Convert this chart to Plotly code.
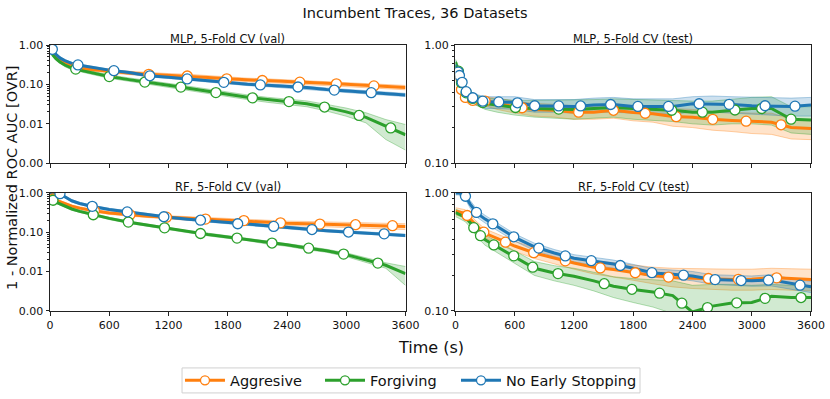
import numpy as np
import plotly.graph_objects as go
from plotly.subplots import make_subplots

# time grid (s) shared by all traces
TIME = [0, 30, 60, 100, 150, 220, 300, 420, 600, 800, 1000, 1200, 1400, 1600,
        1800, 2000, 2200, 2400, 2600, 2800, 3000, 3200, 3400, 3600]

STRATEGIES = ["Aggresive", "Forgiving", "No Early Stopping"]
COLORS = {"Aggresive": "#ff7f0e", "Forgiving": "#2ca02c", "No Early Stopping": "#1f77b4"}
FILLS = {"Aggresive": "rgba(255,127,14,0.22)", "Forgiving": "rgba(44,160,44,0.22)",
         "No Early Stopping": "rgba(31,119,180,0.22)"}
EDGES = {"Aggresive": "rgba(255,127,14,0.35)", "Forgiving": "rgba(44,160,44,0.35)",
         "No Early Stopping": "rgba(31,119,180,0.35)"}
LEGEND_IDS = {"Aggresive": "legend", "Forgiving": "legend2", "No Early Stopping": "legend3"}

PANEL_TITLES = ["MLP, 5-Fold CV (val)", "MLP, 5-Fold CV (test)",
                "RF, 5-Fold CV (val)", "RF, 5-Fold CV (test)"]

# ---- MLP val ----
MLP_VAL_AGG = [0.85, 0.62, 0.50, 0.41, 0.35, 0.30, 0.26, 0.24, 0.215, 0.195, 0.18, 0.17, 0.163, 0.15, 0.138, 0.13, 0.124, 0.117, 0.112, 0.106, 0.101, 0.094, 0.088, 0.083]
MLP_VAL_AGG_LO = [0.80, 0.57, 0.46, 0.37, 0.32, 0.27, 0.235, 0.215, 0.195, 0.177, 0.163, 0.153, 0.147, 0.135, 0.124, 0.117, 0.111, 0.105, 0.1, 0.095, 0.09, 0.084, 0.078, 0.073]
MLP_VAL_AGG_HI = [0.90, 0.67, 0.55, 0.45, 0.39, 0.33, 0.29, 0.265, 0.238, 0.215, 0.198, 0.188, 0.18, 0.166, 0.153, 0.144, 0.138, 0.13, 0.125, 0.118, 0.113, 0.105, 0.099, 0.094]
MLP_VAL_FOR = [0.80, 0.55, 0.45, 0.37, 0.31, 0.26, 0.23, 0.20, 0.158, 0.132, 0.11, 0.095, 0.08, 0.066, 0.056, 0.047, 0.041, 0.037, 0.032, 0.026, 0.020, 0.0145, 0.0095, 0.0072]
MLP_VAL_FOR_LO = [0.75, 0.50, 0.41, 0.34, 0.28, 0.235, 0.208, 0.18, 0.143, 0.119, 0.099, 0.085, 0.071, 0.058, 0.049, 0.041, 0.035, 0.031, 0.027, 0.021, 0.0155, 0.0105, 0.006, 0.0033]
MLP_VAL_FOR_HI = [0.85, 0.60, 0.49, 0.40, 0.34, 0.285, 0.252, 0.22, 0.174, 0.146, 0.122, 0.106, 0.09, 0.075, 0.064, 0.054, 0.047, 0.043, 0.038, 0.031, 0.025, 0.019, 0.0128, 0.0098]
MLP_VAL_NES = [0.90, 0.75, 0.58, 0.47, 0.40, 0.34, 0.305, 0.27, 0.23, 0.20, 0.166, 0.152, 0.137, 0.123, 0.11, 0.101, 0.095, 0.089, 0.083, 0.074, 0.068, 0.063, 0.058, 0.054]
MLP_VAL_NES_LO = [0.86, 0.70, 0.54, 0.44, 0.375, 0.318, 0.285, 0.252, 0.215, 0.186, 0.155, 0.141, 0.127, 0.114, 0.102, 0.093, 0.087, 0.081, 0.076, 0.068, 0.062, 0.057, 0.052, 0.049]
MLP_VAL_NES_HI = [0.94, 0.80, 0.62, 0.50, 0.425, 0.362, 0.325, 0.288, 0.245, 0.214, 0.178, 0.163, 0.147, 0.132, 0.118, 0.109, 0.103, 0.097, 0.09, 0.081, 0.074, 0.069, 0.064, 0.059]

# ---- MLP test ----
MLP_TEST_AGG = [0.55, 0.47, 0.42, 0.36, 0.34, 0.34, 0.335, 0.32, 0.30, 0.285, 0.28, 0.27, 0.27, 0.28, 0.268, 0.262, 0.248, 0.245, 0.235, 0.23, 0.225, 0.222, 0.20, 0.196]
MLP_TEST_AGG_LO = [0.50, 0.43, 0.38, 0.33, 0.31, 0.31, 0.305, 0.285, 0.265, 0.25, 0.245, 0.235, 0.235, 0.24, 0.228, 0.222, 0.205, 0.20, 0.19, 0.185, 0.178, 0.175, 0.16, 0.158]
MLP_TEST_AGG_HI = [0.60, 0.51, 0.46, 0.39, 0.37, 0.37, 0.365, 0.355, 0.335, 0.32, 0.315, 0.305, 0.305, 0.315, 0.305, 0.30, 0.29, 0.285, 0.275, 0.27, 0.265, 0.265, 0.235, 0.23]
MLP_TEST_FOR = [0.72, 0.60, 0.48, 0.40, 0.36, 0.34, 0.32, 0.31, 0.296, 0.29, 0.287, 0.285, 0.29, 0.295, 0.29, 0.285, 0.28, 0.27, 0.27, 0.28, 0.29, 0.29, 0.235, 0.232]
MLP_TEST_FOR_LO = [0.66, 0.55, 0.44, 0.36, 0.325, 0.305, 0.285, 0.27, 0.255, 0.245, 0.24, 0.235, 0.24, 0.245, 0.235, 0.23, 0.225, 0.215, 0.21, 0.215, 0.215, 0.21, 0.18, 0.175]
MLP_TEST_FOR_HI = [0.76, 0.66, 0.53, 0.44, 0.395, 0.375, 0.355, 0.35, 0.34, 0.34, 0.34, 0.34, 0.345, 0.35, 0.345, 0.34, 0.34, 0.335, 0.335, 0.345, 0.36, 0.365, 0.30, 0.30]
MLP_TEST_NES = [0.68, 0.58, 0.50, 0.41, 0.365, 0.345, 0.33, 0.33, 0.327, 0.306, 0.306, 0.302, 0.31, 0.314, 0.302, 0.302, 0.302, 0.318, 0.318, 0.314, 0.306, 0.306, 0.302, 0.31]
MLP_TEST_NES_LO = [0.62, 0.52, 0.45, 0.37, 0.33, 0.31, 0.29, 0.29, 0.285, 0.27, 0.27, 0.265, 0.27, 0.27, 0.265, 0.26, 0.26, 0.27, 0.27, 0.265, 0.26, 0.255, 0.25, 0.25]
MLP_TEST_NES_HI = [0.74, 0.64, 0.55, 0.45, 0.40, 0.38, 0.365, 0.365, 0.365, 0.345, 0.345, 0.345, 0.355, 0.36, 0.35, 0.35, 0.35, 0.365, 0.37, 0.365, 0.36, 0.36, 0.355, 0.36]

# ---- RF val ----
RF_VAL_AGG = [0.75, 0.70, 0.64, 0.58, 0.52, 0.46, 0.41, 0.36, 0.31, 0.28, 0.255, 0.24, 0.226, 0.215, 0.205, 0.196, 0.18, 0.17, 0.165, 0.16, 0.157, 0.154, 0.15, 0.141]
RF_VAL_AGG_LO = [0.70, 0.65, 0.59, 0.535, 0.48, 0.425, 0.378, 0.332, 0.285, 0.256, 0.232, 0.217, 0.203, 0.192, 0.182, 0.173, 0.158, 0.148, 0.142, 0.137, 0.133, 0.129, 0.125, 0.117]
RF_VAL_AGG_HI = [0.80, 0.75, 0.69, 0.625, 0.56, 0.495, 0.442, 0.388, 0.335, 0.304, 0.278, 0.263, 0.249, 0.238, 0.228, 0.219, 0.202, 0.192, 0.188, 0.183, 0.181, 0.179, 0.175, 0.165]
RF_VAL_FOR = [0.68, 0.65, 0.58, 0.52, 0.46, 0.39, 0.34, 0.285, 0.225, 0.18, 0.15, 0.125, 0.102, 0.088, 0.076, 0.066, 0.055, 0.048, 0.04, 0.034, 0.027, 0.02, 0.0145, 0.0095]
RF_VAL_FOR_LO = [0.64, 0.61, 0.545, 0.488, 0.432, 0.366, 0.319, 0.267, 0.21, 0.168, 0.14, 0.116, 0.095, 0.081, 0.07, 0.061, 0.05, 0.044, 0.036, 0.031, 0.024, 0.0175, 0.0122, 0.0065]
RF_VAL_FOR_HI = [0.72, 0.69, 0.615, 0.552, 0.488, 0.414, 0.361, 0.303, 0.24, 0.192, 0.16, 0.134, 0.109, 0.095, 0.082, 0.071, 0.06, 0.052, 0.044, 0.037, 0.03, 0.0225, 0.0168, 0.0135]
RF_VAL_NES = [1.0, 1.0, 0.99, 0.96, 0.80, 0.63, 0.54, 0.46, 0.38, 0.325, 0.275, 0.24, 0.215, 0.195, 0.172, 0.158, 0.145, 0.132, 0.12, 0.11, 0.102, 0.096, 0.091, 0.083]
RF_VAL_NES_LO = [0.97, 0.97, 0.95, 0.91, 0.75, 0.59, 0.505, 0.43, 0.355, 0.303, 0.256, 0.223, 0.20, 0.181, 0.16, 0.147, 0.135, 0.122, 0.111, 0.102, 0.094, 0.089, 0.084, 0.077]
RF_VAL_NES_HI = [1.0, 1.0, 1.0, 1.0, 0.85, 0.67, 0.575, 0.49, 0.405, 0.347, 0.294, 0.257, 0.23, 0.209, 0.184, 0.169, 0.155, 0.142, 0.129, 0.118, 0.11, 0.103, 0.098, 0.089]

# ---- RF test ----
RF_TEST_AGG = [0.70, 0.69, 0.68, 0.67, 0.60, 0.52, 0.455, 0.41, 0.355, 0.31, 0.28, 0.255, 0.235, 0.225, 0.212, 0.20, 0.192, 0.19, 0.188, 0.185, 0.186, 0.192, 0.188, 0.185]
RF_TEST_AGG_LO = [0.65, 0.64, 0.63, 0.62, 0.55, 0.475, 0.415, 0.372, 0.32, 0.278, 0.25, 0.226, 0.206, 0.195, 0.182, 0.17, 0.16, 0.155, 0.152, 0.15, 0.15, 0.152, 0.15, 0.148]
RF_TEST_AGG_HI = [0.75, 0.74, 0.73, 0.72, 0.65, 0.565, 0.495, 0.448, 0.39, 0.342, 0.31, 0.285, 0.265, 0.257, 0.245, 0.235, 0.23, 0.228, 0.228, 0.226, 0.226, 0.23, 0.228, 0.226]
RF_TEST_FOR = [0.68, 0.66, 0.64, 0.62, 0.56, 0.46, 0.40, 0.35, 0.29, 0.23, 0.21, 0.197, 0.18, 0.162, 0.152, 0.145, 0.135, 0.098, 0.11, 0.117, 0.118, 0.133, 0.13, 0.13]
RF_TEST_FOR_LO = [0.63, 0.61, 0.59, 0.57, 0.51, 0.42, 0.36, 0.312, 0.255, 0.20, 0.18, 0.165, 0.148, 0.13, 0.118, 0.108, 0.095, 0.07, 0.08, 0.085, 0.085, 0.095, 0.092, 0.092]
RF_TEST_FOR_HI = [0.73, 0.71, 0.69, 0.67, 0.61, 0.50, 0.44, 0.39, 0.325, 0.262, 0.242, 0.23, 0.213, 0.195, 0.188, 0.185, 0.18, 0.165, 0.168, 0.168, 0.165, 0.168, 0.165, 0.165]
RF_TEST_NES = [1.0, 1.0, 0.98, 0.94, 0.80, 0.67, 0.60, 0.52, 0.42, 0.35, 0.31, 0.28, 0.265, 0.25, 0.23, 0.21, 0.205, 0.198, 0.185, 0.182, 0.18, 0.183, 0.17, 0.16]
RF_TEST_NES_LO = [0.96, 0.96, 0.93, 0.88, 0.74, 0.62, 0.555, 0.48, 0.39, 0.325, 0.288, 0.26, 0.245, 0.23, 0.212, 0.193, 0.188, 0.18, 0.168, 0.165, 0.162, 0.163, 0.152, 0.143]
RF_TEST_NES_HI = [1.0, 1.0, 1.0, 1.0, 0.86, 0.72, 0.645, 0.56, 0.45, 0.375, 0.332, 0.30, 0.285, 0.27, 0.248, 0.228, 0.222, 0.216, 0.203, 0.20, 0.198, 0.203, 0.188, 0.178]

# marker times (s) per panel / strategy
MLP_VAL_MARKS = {"Aggresive": [270, 640, 1000, 1390, 1790, 2150, 2530, 2900, 3280],
                 "Forgiving": [260, 600, 960, 1325, 1680, 2050, 2420, 2780, 3130, 3450],
                 "No Early Stopping": [24, 283, 647, 1011, 1389, 1760, 2130, 2511, 2879, 3253]}
MLP_TEST_MARKS = {"Aggresive": [60, 100, 175, 300, 674, 1247, 1600, 1921, 2235, 2605, 2943, 3297],
                  "Forgiving": [30, 60, 108, 175, 276, 607, 1045, 2190, 2500, 2830, 3100, 3398],
                  "No Early Stopping": [27, 40, 67, 108, 175, 276, 438, 627, 802, 1045, 1267, 1571, 1847, 2157, 2467, 2771, 3135, 3438]}
RF_VAL_MARKS = {"Aggresive": [30, 450, 810, 1180, 1575, 1963, 2334, 2733, 3094, 3468],
                "Forgiving": [30, 438, 793, 1160, 1524, 1894, 2248, 2619, 2973, 3320],
                "No Early Stopping": [101, 428, 782, 1153, 1524, 1901, 2265, 2653, 3023, 3384]}
RF_TEST_MARKS = {"Aggresive": [118, 287, 506, 792, 1112, 1466, 1820, 2157, 2561, 2865, 3252],
                 "Forgiving": [185, 253, 388, 590, 782, 1038, 1506, 1786, 2066, 2292, 2552, 2848, 3135, 3499],
                 "No Early Stopping": [101, 212, 378, 590, 843, 1112, 1375, 1669, 1989, 2309, 2629, 2892, 3169, 3489]}

PANELS = [
    # (row, col, symlog?, {strategy: (mean, lo, hi)}, marks)
    (1, 1, True, {"Aggresive": (MLP_VAL_AGG, MLP_VAL_AGG_LO, MLP_VAL_AGG_HI),
                  "Forgiving": (MLP_VAL_FOR, MLP_VAL_FOR_LO, MLP_VAL_FOR_HI),
                  "No Early Stopping": (MLP_VAL_NES, MLP_VAL_NES_LO, MLP_VAL_NES_HI)}, MLP_VAL_MARKS),
    (1, 2, False, {"Aggresive": (MLP_TEST_AGG, MLP_TEST_AGG_LO, MLP_TEST_AGG_HI),
                   "Forgiving": (MLP_TEST_FOR, MLP_TEST_FOR_LO, MLP_TEST_FOR_HI),
                   "No Early Stopping": (MLP_TEST_NES, MLP_TEST_NES_LO, MLP_TEST_NES_HI)}, MLP_TEST_MARKS),
    (2, 1, True, {"Aggresive": (RF_VAL_AGG, RF_VAL_AGG_LO, RF_VAL_AGG_HI),
                  "Forgiving": (RF_VAL_FOR, RF_VAL_FOR_LO, RF_VAL_FOR_HI),
                  "No Early Stopping": (RF_VAL_NES, RF_VAL_NES_LO, RF_VAL_NES_HI)}, RF_VAL_MARKS),
    (2, 2, False, {"Aggresive": (RF_TEST_AGG, RF_TEST_AGG_LO, RF_TEST_AGG_HI),
                   "Forgiving": (RF_TEST_FOR, RF_TEST_FOR_LO, RF_TEST_FOR_HI),
                   "No Early Stopping": (RF_TEST_NES, RF_TEST_NES_LO, RF_TEST_NES_HI)}, RF_TEST_MARKS),
]

LINTHRESH = 0.01


def symlog(v):
    # matplotlib-like symlog (linthresh 0.01) mapped to decade units: 0->0, 0.01->1, 0.1->2, 1->3
    v = np.asarray(v, dtype=float)
    return np.where(v < LINTHRESH, v / LINTHRESH, 1 + np.log10(np.maximum(v, 1e-12) / LINTHRESH))


fig = make_subplots(rows=2, cols=2, horizontal_spacing=0.0657, vertical_spacing=0.112,
                    subplot_titles=PANEL_TITLES)

t = np.array(TIME, dtype=float)
for row, col, is_symlog, series, marks in PANELS:
    def tr(v):
        return symlog(v) if is_symlog else np.asarray(v, dtype=float)

    # confidence bands
    for name in STRATEGIES:
        mean, lo, hi = series[name]
        fig.add_trace(go.Scatter(x=TIME, y=tr(hi), mode="lines", line=dict(color=EDGES[name], width=1),
                                 showlegend=False, hoverinfo="skip"), row=row, col=col)
        fig.add_trace(go.Scatter(x=TIME, y=tr(lo), mode="lines", line=dict(color=EDGES[name], width=1),
                                 fill="tonexty", fillcolor=FILLS[name], showlegend=False, hoverinfo="skip"),
                      row=row, col=col)
    # mean lines
    for name in STRATEGIES:
        mean = series[name][0]
        fig.add_trace(go.Scatter(x=TIME, y=tr(mean), mode="lines", line=dict(color=COLORS[name], width=3),
                                 showlegend=False, name=name), row=row, col=col)
    # markers on the mean lines
    for name in STRATEGIES:
        mean = series[name][0]
        mt = np.array(marks[name], dtype=float)
        if is_symlog:
            my = np.interp(mt, t, symlog(mean))
        else:
            my = 10 ** np.interp(mt, t, np.log10(mean))
        fig.add_trace(go.Scatter(x=mt, y=my, mode="markers",
                                 marker=dict(size=10, color="white", line=dict(color=COLORS[name], width=1.3)),
                                 showlegend=False, hoverinfo="skip"), row=row, col=col)

# legend-only entries, one legend each so the spacing can follow the reference
for name in STRATEGIES:
    fig.add_trace(go.Scatter(x=[None], y=[None], mode="lines+markers", name=name,
                             legend=LEGEND_IDS[name],
                             line=dict(color=COLORS[name], width=3),
                             marker=dict(size=9, color="white", line=dict(color=COLORS[name], width=1.3))),
                  row=1, col=1)

axis_common = dict(showline=True, linecolor="#222", linewidth=1, mirror=True, ticks="outside",
                   ticklen=3.5, tickcolor="#222", showgrid=False, zeroline=False, automargin=False,
                   tickfont=dict(size=11, color="#111"))

x_ticks = [0, 600, 1200, 1800, 2400, 3000, 3600]
for row, col, is_symlog, _, _ in PANELS:
    fig.update_xaxes(range=[0, 3600], tickvals=x_ticks, showticklabels=(row == 2), **axis_common,
                     row=row, col=col)
    if is_symlog:
        minor_vals = []
        for d in (1, 2):
            for k in range(2, 10):
                minor_vals.append(d + np.log10(k))
        fig.update_yaxes(range=[0, 3], tickvals=[0, 1, 2, 3], ticktext=["0.00", "0.01", "0.10", "1.00"],
                         minor=dict(tickvals=minor_vals, ticks="outside", ticklen=2, tickcolor="#222"),
                         **axis_common, row=row, col=col)
    else:
        fig.update_yaxes(type="log", range=[-1, 0], tickvals=[0.1, 1.0], ticktext=["0.10", "1.00"],
                         minor=dict(tickvals=[0.2, 0.3, 0.4, 0.5, 0.6, 0.7, 0.8, 0.9], ticks="outside",
                                    ticklen=2, tickcolor="#222"),
                         **axis_common, row=row, col=col)

for ann in fig.layout.annotations:
    ann.font = dict(size=11.5, color="#111", family="DejaVu Sans")
    ann.yshift = -3

fig.add_annotation(text="Time (s)", x=0.5, y=-0.138, xref="paper", yref="paper", showarrow=False,
                   font=dict(size=16, color="#111"), yanchor="middle")
fig.add_annotation(text="1 - Normalized ROC AUC [OVR]", x=-0.05, y=0.5, xref="paper", yref="paper",
                   showarrow=False, textangle=-90, font=dict(size=14.5, color="#111"), xanchor="center")

# legend frame
fig.add_shape(type="rect", xref="paper", yref="paper", x0=0.1735, x1=0.7753, y0=-0.308, y1=-0.214,
              line=dict(color="#d0d0d0", width=1), fillcolor="rgba(255,255,255,0.8)", layer="below")

legend_common = dict(orientation="h", y=-0.261, yanchor="middle", xanchor="left",
                     bgcolor="rgba(0,0,0,0)", borderwidth=0, font=dict(size=14.5, color="#111"),
                     itemwidth=40)

fig.update_layout(
    width=830, height=399,
    margin=dict(l=50, r=19, t=45, b=88, autoexpand=False),
    paper_bgcolor="white", plot_bgcolor="white",
    font=dict(family="DejaVu Sans", color="#111"),
    title=dict(text="Incumbent Traces, 36 Datasets", x=0.5, xanchor="center", y=0.967, yanchor="middle",
               font=dict(size=14.5, color="#111")),
    legend=dict(x=0.1708, **legend_common),
    legend2=dict(x=0.3548, **legend_common),
    legend3=dict(x=0.5335, **legend_common),
    showlegend=True,
)

# the page body has a default margin; drop it so the figure fills the window exactly
fig.write_html("out.html", config={"displayModeBar": False},
               post_script="document.body.style.margin='0';document.body.style.overflow='hidden';")
